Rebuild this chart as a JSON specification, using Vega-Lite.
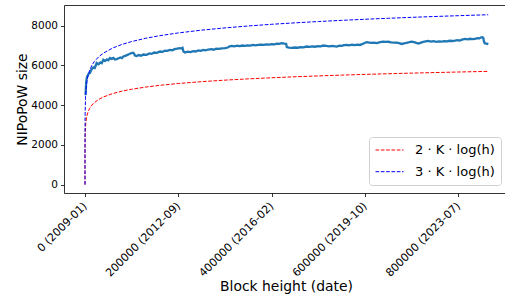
{
  "$schema": "https://vega.github.io/schema/vega-lite/v6.json",
  "width": 441,
  "height": 188,
  "autosize": {"type": "none"},
  "padding": {"left": 64, "top": 5, "right": 0, "bottom": 104},
  "background": "white",
  "config": {
    "view": {"stroke": null},
    "font": "DejaVu Sans",
    "axis": {
      "grid": false,
      "domainColor": "#000000",
      "domainWidth": 0.8,
      "tickColor": "#000000",
      "tickWidth": 0.8,
      "tickSize": 3.5,
      "labelFont": "DejaVu Sans",
      "labelFontSize": 10.5,
      "labelColor": "#000000",
      "titleFont": "DejaVu Sans",
      "titleFontSize": 13.9,
      "titleFontWeight": "normal",
      "titleColor": "#000000"
    },
    "legend": {
      "orient": "none",
      "legendX": 305,
      "legendY": 132,
      "strokeColor": "#d0d0d0",
      "fillColor": "rgba(255,255,255,0.8)",
      "cornerRadius": 3,
      "padding": 6,
      "symbolType": "stroke",
      "symbolSize": 784,
      "symbolStrokeWidth": 1,
      "symbolDash": [3.7, 1.6],
      "clipHeight": 14,
      "labelFont": "DejaVu Sans",
      "labelFontSize": 13,
      "labelColor": "#000000",
      "labelOffset": 11,
      "rowPadding": 7.7
    }
  },
  "datasets": {
    "series": [
      {"h": 1200, "v": 4500}, {"h": 2500, "v": 5150}, {"h": 4000, "v": 5400}, {"h": 6000, "v": 5500},
      {"h": 8000, "v": 5580}, {"h": 10700, "v": 5620}, {"h": 14000, "v": 5800}, {"h": 18000, "v": 5900},
      {"h": 21000, "v": 5870}, {"h": 25000, "v": 6120}, {"h": 29000, "v": 6060}, {"h": 33000, "v": 6150},
      {"h": 36000, "v": 6110}, {"h": 39300, "v": 6280}, {"h": 43000, "v": 6220}, {"h": 47000, "v": 6300},
      {"h": 50000, "v": 6260}, {"h": 53600, "v": 6370}, {"h": 57000, "v": 6330}, {"h": 61000, "v": 6380},
      {"h": 64000, "v": 6300}, {"h": 67900, "v": 6320}, {"h": 72000, "v": 6360}, {"h": 76000, "v": 6400},
      {"h": 79000, "v": 6370}, {"h": 82200, "v": 6450}, {"h": 86000, "v": 6480}, {"h": 90000, "v": 6520},
      {"h": 94000, "v": 6560}, {"h": 97000, "v": 6600}, {"h": 100000, "v": 6620}, {"h": 103000, "v": 6640},
      {"h": 105000, "v": 6600}, {"h": 107000, "v": 6500}, {"h": 111000, "v": 6470}, {"h": 115000, "v": 6520},
      {"h": 120000, "v": 6490}, {"h": 125000, "v": 6550}, {"h": 132000, "v": 6530}, {"h": 138000, "v": 6600},
      {"h": 143000, "v": 6580}, {"h": 148000, "v": 6650}, {"h": 154000, "v": 6630}, {"h": 160700, "v": 6700},
      {"h": 166000, "v": 6680}, {"h": 171000, "v": 6740}, {"h": 176000, "v": 6730}, {"h": 182000, "v": 6780},
      {"h": 187000, "v": 6760}, {"h": 192000, "v": 6820}, {"h": 197000, "v": 6840}, {"h": 203600, "v": 6870},
      {"h": 207000, "v": 6850}, {"h": 209000, "v": 6880}, {"h": 211000, "v": 6700}, {"h": 214300, "v": 6650},
      {"h": 220000, "v": 6690}, {"h": 226000, "v": 6670}, {"h": 232000, "v": 6720}, {"h": 237000, "v": 6700},
      {"h": 242900, "v": 6750}, {"h": 248000, "v": 6730}, {"h": 253000, "v": 6780}, {"h": 258000, "v": 6760},
      {"h": 264000, "v": 6800}, {"h": 271500, "v": 6820}, {"h": 276000, "v": 6790}, {"h": 281000, "v": 6840},
      {"h": 287000, "v": 6830}, {"h": 293000, "v": 6860}, {"h": 300000, "v": 6870}, {"h": 306000, "v": 6900},
      {"h": 310000, "v": 6960}, {"h": 314300, "v": 6980}, {"h": 320000, "v": 6960}, {"h": 326000, "v": 6990},
      {"h": 332000, "v": 6970}, {"h": 337000, "v": 7000}, {"h": 342900, "v": 6980}, {"h": 348000, "v": 7010},
      {"h": 354000, "v": 7000}, {"h": 360000, "v": 7030}, {"h": 365000, "v": 7010}, {"h": 371400, "v": 7030},
      {"h": 377000, "v": 7050}, {"h": 383000, "v": 7030}, {"h": 389000, "v": 7060}, {"h": 395000, "v": 7050},
      {"h": 400000, "v": 7070}, {"h": 406000, "v": 7060}, {"h": 411000, "v": 7090}, {"h": 416000, "v": 7080},
      {"h": 421500, "v": 7120}, {"h": 427000, "v": 7100}, {"h": 431000, "v": 7090}, {"h": 432500, "v": 6920},
      {"h": 437000, "v": 6900}, {"h": 443000, "v": 6880}, {"h": 450000, "v": 6900}, {"h": 456000, "v": 6890},
      {"h": 462000, "v": 6920}, {"h": 468000, "v": 6910}, {"h": 475000, "v": 6950}, {"h": 481000, "v": 6930},
      {"h": 487000, "v": 6960}, {"h": 493000, "v": 6940}, {"h": 499000, "v": 6970}, {"h": 505000, "v": 6960},
      {"h": 510700, "v": 7000}, {"h": 517000, "v": 6980}, {"h": 523000, "v": 6960}, {"h": 530000, "v": 6980},
      {"h": 539300, "v": 6950}, {"h": 545000, "v": 6990}, {"h": 550000, "v": 6980}, {"h": 555000, "v": 7020},
      {"h": 560700, "v": 7030}, {"h": 566000, "v": 7010}, {"h": 572000, "v": 7040}, {"h": 578000, "v": 7020},
      {"h": 584000, "v": 7050}, {"h": 589300, "v": 7030}, {"h": 595000, "v": 7080}, {"h": 600000, "v": 7140},
      {"h": 603600, "v": 7170}, {"h": 609000, "v": 7150}, {"h": 615000, "v": 7130}, {"h": 620000, "v": 7150},
      {"h": 625000, "v": 7120}, {"h": 631000, "v": 7160}, {"h": 635000, "v": 7180}, {"h": 639300, "v": 7200},
      {"h": 645000, "v": 7180}, {"h": 650000, "v": 7190}, {"h": 656000, "v": 7160}, {"h": 662000, "v": 7150},
      {"h": 667900, "v": 7150}, {"h": 673000, "v": 7120}, {"h": 678600, "v": 7080}, {"h": 684000, "v": 7110},
      {"h": 689000, "v": 7140}, {"h": 695000, "v": 7170}, {"h": 700000, "v": 7200}, {"h": 705000, "v": 7170},
      {"h": 710000, "v": 7130}, {"h": 714300, "v": 7100}, {"h": 720000, "v": 7150}, {"h": 725000, "v": 7180},
      {"h": 730000, "v": 7210}, {"h": 735700, "v": 7230}, {"h": 741000, "v": 7200}, {"h": 747000, "v": 7220},
      {"h": 753000, "v": 7190}, {"h": 758000, "v": 7210}, {"h": 764300, "v": 7200}, {"h": 770000, "v": 7220},
      {"h": 776000, "v": 7210}, {"h": 781000, "v": 7240}, {"h": 787000, "v": 7230}, {"h": 792900, "v": 7250},
      {"h": 798000, "v": 7270}, {"h": 803000, "v": 7250}, {"h": 808000, "v": 7300}, {"h": 814300, "v": 7330},
      {"h": 820000, "v": 7310}, {"h": 825000, "v": 7340}, {"h": 830000, "v": 7320}, {"h": 835700, "v": 7330},
      {"h": 840000, "v": 7370}, {"h": 845000, "v": 7360}, {"h": 848000, "v": 7400}, {"h": 851500, "v": 7420},
      {"h": 853500, "v": 7380}, {"h": 855000, "v": 7200}, {"h": 856500, "v": 7120}, {"h": 860000, "v": 7100},
      {"h": 864300, "v": 7070}
    ],
    "curves": [
      {"curve": "2 · K · log(h)", "h": 1, "v": 0},
      {"curve": "2 · K · log(h)", "h": 10, "v": 960},
      {"curve": "2 · K · log(h)", "h": 50, "v": 1631},
      {"curve": "2 · K · log(h)", "h": 100, "v": 1920},
      {"curve": "2 · K · log(h)", "h": 300, "v": 2378},
      {"curve": "2 · K · log(h)", "h": 1000, "v": 2881},
      {"curve": "2 · K · log(h)", "h": 2000, "v": 3170},
      {"curve": "2 · K · log(h)", "h": 4000, "v": 3459},
      {"curve": "2 · K · log(h)", "h": 7000, "v": 3692},
      {"curve": "2 · K · log(h)", "h": 10000, "v": 3841},
      {"curve": "2 · K · log(h)", "h": 15000, "v": 4010},
      {"curve": "2 · K · log(h)", "h": 20000, "v": 4130},
      {"curve": "2 · K · log(h)", "h": 30000, "v": 4299},
      {"curve": "2 · K · log(h)", "h": 40000, "v": 4419},
      {"curve": "2 · K · log(h)", "h": 60000, "v": 4588},
      {"curve": "2 · K · log(h)", "h": 80000, "v": 4708},
      {"curve": "2 · K · log(h)", "h": 100000, "v": 4801},
      {"curve": "2 · K · log(h)", "h": 130000, "v": 4910},
      {"curve": "2 · K · log(h)", "h": 160000, "v": 4997},
      {"curve": "2 · K · log(h)", "h": 200000, "v": 5090},
      {"curve": "2 · K · log(h)", "h": 250000, "v": 5183},
      {"curve": "2 · K · log(h)", "h": 300000, "v": 5259},
      {"curve": "2 · K · log(h)", "h": 350000, "v": 5323},
      {"curve": "2 · K · log(h)", "h": 400000, "v": 5379},
      {"curve": "2 · K · log(h)", "h": 450000, "v": 5428},
      {"curve": "2 · K · log(h)", "h": 500000, "v": 5472},
      {"curve": "2 · K · log(h)", "h": 550000, "v": 5512},
      {"curve": "2 · K · log(h)", "h": 600000, "v": 5548},
      {"curve": "2 · K · log(h)", "h": 650000, "v": 5581},
      {"curve": "2 · K · log(h)", "h": 700000, "v": 5612},
      {"curve": "2 · K · log(h)", "h": 750000, "v": 5641},
      {"curve": "2 · K · log(h)", "h": 800000, "v": 5668},
      {"curve": "2 · K · log(h)", "h": 864000, "v": 5700},
      {"curve": "3 · K · log(h)", "h": 1, "v": 0},
      {"curve": "3 · K · log(h)", "h": 10, "v": 1440},
      {"curve": "3 · K · log(h)", "h": 50, "v": 2447},
      {"curve": "3 · K · log(h)", "h": 100, "v": 2881},
      {"curve": "3 · K · log(h)", "h": 300, "v": 3568},
      {"curve": "3 · K · log(h)", "h": 1000, "v": 4321},
      {"curve": "3 · K · log(h)", "h": 2000, "v": 4754},
      {"curve": "3 · K · log(h)", "h": 4000, "v": 5188},
      {"curve": "3 · K · log(h)", "h": 7000, "v": 5538},
      {"curve": "3 · K · log(h)", "h": 10000, "v": 5761},
      {"curve": "3 · K · log(h)", "h": 15000, "v": 6015},
      {"curve": "3 · K · log(h)", "h": 20000, "v": 6195},
      {"curve": "3 · K · log(h)", "h": 30000, "v": 6448},
      {"curve": "3 · K · log(h)", "h": 40000, "v": 6628},
      {"curve": "3 · K · log(h)", "h": 60000, "v": 6882},
      {"curve": "3 · K · log(h)", "h": 80000, "v": 7062},
      {"curve": "3 · K · log(h)", "h": 100000, "v": 7201},
      {"curve": "3 · K · log(h)", "h": 130000, "v": 7365},
      {"curve": "3 · K · log(h)", "h": 160000, "v": 7495},
      {"curve": "3 · K · log(h)", "h": 200000, "v": 7635},
      {"curve": "3 · K · log(h)", "h": 250000, "v": 7775},
      {"curve": "3 · K · log(h)", "h": 300000, "v": 7888},
      {"curve": "3 · K · log(h)", "h": 350000, "v": 7985},
      {"curve": "3 · K · log(h)", "h": 400000, "v": 8069},
      {"curve": "3 · K · log(h)", "h": 450000, "v": 8142},
      {"curve": "3 · K · log(h)", "h": 500000, "v": 8208},
      {"curve": "3 · K · log(h)", "h": 550000, "v": 8268},
      {"curve": "3 · K · log(h)", "h": 600000, "v": 8322},
      {"curve": "3 · K · log(h)", "h": 650000, "v": 8372},
      {"curve": "3 · K · log(h)", "h": 700000, "v": 8419},
      {"curve": "3 · K · log(h)", "h": 750000, "v": 8462},
      {"curve": "3 · K · log(h)", "h": 800000, "v": 8502},
      {"curve": "3 · K · log(h)", "h": 864000, "v": 8550}
    ]
  },
  "resolve": {"axis": {"x": "independent"}},
  "layer": [
    {
      "data": {"name": "series"},
      "mark": {"type": "line", "color": "#1f77b4", "strokeWidth": 2.3, "clip": true},
      "encoding": {
        "x": {
          "field": "h", "type": "quantitative",
          "scale": {"domain": [-45000, 900000], "nice": false, "zero": false},
          "axis": {
            "orient": "bottom",
            "title": "Block height (date)",
            "values": [0, 200000, 400000, 600000, 800000],
            "labelExpr": "datum.value == 0 ? '0 (2009-01)' : datum.value == 200000 ? '200000 (2012-09)' : datum.value == 400000 ? '400000 (2016-02)' : datum.value == 600000 ? '600000 (2019-10)' : '800000 (2023-07)'",
            "labelFontSize": 11,
            "labelAngle": -45,
            "labelAlign": "right",
            "labelBaseline": "middle",
            "labelPadding": 7.5,
            "labelDx": -5,
            "labelOverlap": false,
            "labelFlush": false,
            "titleX": 222,
            "titleY": 97,
            "titleAlign": "center",
            "titleBaseline": "alphabetic"
          }
        },
        "y": {
          "field": "v", "type": "quantitative",
          "title": "NIPoPoW size",
          "scale": {"domain": [-420, 9040], "nice": false, "zero": false},
          "axis": {
            "values": [0, 2000, 4000, 6000, 8000],
            "format": "d",
            "labelPadding": 3,
            "titleX": -38,
            "titleY": 94,
            "titleAngle": -90,
            "titleAlign": "center",
            "titleBaseline": "alphabetic"
          }
        }
      }
    },
    {
      "data": {"name": "curves"},
      "mark": {"type": "line", "strokeWidth": 1, "strokeDash": [3.7, 1.6], "clip": true},
      "encoding": {
        "x": {
          "field": "h", "type": "quantitative",
          "axis": {"orient": "top", "title": null, "labels": false, "ticks": false, "domain": true}
        },
        "y": {"field": "v", "type": "quantitative", "title": "NIPoPoW size"},
        "color": {
          "field": "curve", "type": "nominal",
          "scale": {"domain": ["2 · K · log(h)", "3 · K · log(h)"], "range": ["#ff0000", "#0000ff"]},
          "legend": {"title": null}
        },
        "order": {"field": "h", "type": "quantitative"}
      }
    }
  ]
}
